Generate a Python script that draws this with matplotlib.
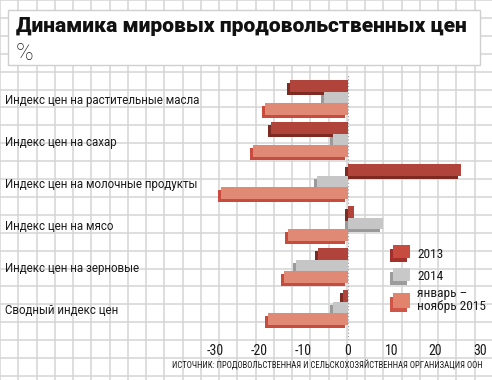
import matplotlib
matplotlib.use('Agg')
import matplotlib.pyplot as plt
from matplotlib.patches import Rectangle
from matplotlib import font_manager
import matplotlib.transforms as mtransforms

# --- data (percent change) ---
categories = [
    'Индекс цен на растительные масла',
    'Индекс цен на сахар',
    'Индекс цен на молочные продукты',
    'Индекс цен на мясо',
    'Индекс цен на зерновые',
    'Сводный индекс цен',
]
values_2013 = [-13.1, -17.4, 25.8, 1.5, -6.6, -1.0]
values_2014 = [-5.4, -3.3, -6.9, 8.0, -11.6, -3.2]
values_2015 = [-18.7, -21.5, -28.7, -13.6, -14.5, -18.1]
series_labels = ['2013', '2014', 'январь –\nноябрь 2015']
x_ticks = [-30, -20, -10, 0, 10, 20, 30]

title = 'Динамика мировых продовольственных цен'
unit = '%'
source = 'ИСТОЧНИК: ПРОДОВОЛЬСТВЕННАЯ И СЕЛЬСКОХОЗЯЙСТВЕННАЯ ОРГАНИЗАЦИЯ ООН'

# face / shadow colours for the fake 3d bars
face_colors = ['#b0443a', '#c6c6c6', '#e08a76']
shadow_colors = ['#7d2a23', '#9a9a9a', '#c94b3e']
legend_faces = ['#c84b3f', '#c8c8c8', '#e2836e']
legend_shadows = ['#a3302a', '#9c9c9c', '#cf5646']

# look for a narrow face for the small texts, fall back to Roboto
fonts = font_manager.fontManager.ttflist
names = {f.name for f in fonts}
body = 'Roboto' if 'Roboto' in names else 'DejaVu Sans'
narrow = None
for cand in ['Roboto Condensed', 'Liberation Sans Narrow', 'Open Sans Condensed']:
    if cand in names:
        narrow = dict(family=cand)
        break
if narrow is None and any(f.name == 'DejaVu Sans' and f.stretch == 'condensed' for f in fonts):
    narrow = dict(family='DejaVu Sans', fontstretch='condensed')
if narrow is None:
    narrow = dict(family=body)
    small_sizes = dict(tick=9.5, legend=8.6, source=5.8)
else:
    small_sizes = dict(tick=10, legend=9.6, source=6.25)

W, H = 492, 380
fig = plt.figure(figsize=(W / 100, H / 100), dpi=100)
fig.patch.set_facecolor('white')

# --- background: squared paper, title box, legend ---
bg = fig.add_axes([0, 0, 1, 1], zorder=0)
bg.set_xlim(0, W)
bg.set_ylim(H, 0)
bg.axis('off')
cell_w, cell_h = 18.25, 17.9
k = 0
while k * cell_w <= W:
    bg.axvline(k * cell_w, color='#d4d4d4', lw=1.1)
    k += 1
k = 0
while k * cell_h <= H:
    bg.axhline(k * cell_h, color='#d4d4d4', lw=1.1)
    k += 1

bg.add_patch(Rectangle((8, 10), 472, 55, facecolor='white', edgecolor='#cfcfcf', lw=1.0, zorder=3))
bg.text(16, 27, title, fontsize=15.1, fontweight='heavy', family=body, color='#111111',
        va='center', ha='left', zorder=4)
bg.text(16, 53, unit, fontsize=17, fontweight='light', family=body, color='#1a1a1a',
        va='center', ha='left', zorder=4)

legend_y = [245, 268, 293]
for i, lab in enumerate(series_labels):
    y0 = legend_y[i]
    hgt = 13 if i < 2 else 15
    bg.add_patch(Rectangle((390, y0 + 4), 17, hgt, facecolor=legend_shadows[i], lw=0, zorder=3))
    bg.add_patch(Rectangle((393, y0), 17, hgt, facecolor=legend_faces[i], lw=0, zorder=4))
    ty = y0 + 9 if i < 2 else y0 + 7
    bg.text(417, ty, lab, fontsize=small_sizes['legend'], color='#1a1a1a', va='center',
            ha='left', linespacing=0.95, zorder=4, **narrow)

fig.text(483 / W, 1 - 366 / H, source, fontsize=small_sizes['source'], color='#1a1a1a',
         ha='right', va='center', **narrow)

# --- main bar axes ---
x_scale = 4.405   # px per percent
zero_px = 347.5
group_px = 42.0
first_px = 97.5
ax_left, ax_right, ax_top, ax_bottom = 200, 492, 75, 340
ax = fig.add_axes([ax_left / W, 1 - ax_bottom / H, (ax_right - ax_left) / W,
                   (ax_bottom - ax_top) / H], zorder=1)
ax.patch.set_alpha(0)
ax.set_xlim((ax_left - zero_px) / x_scale, (ax_right - zero_px) / x_scale)
ax.set_ylim((ax_bottom - first_px) / group_px, (ax_top - first_px) / group_px)
for s in ax.spines.values():
    s.set_visible(False)

bar_h = 11.7 / group_px
dx = 3 / x_scale
dy = 3 / group_px
pos = list(range(len(categories)))
ax.axvline(0, color='#9a9a9a', lw=0.8, ls=(0, (1, 2)), zorder=0.5)
for j, vals in enumerate([values_2013, values_2014, values_2015]):
    off = (j - 1) * bar_h
    ys = [p + off for p in pos]
    ax.barh([y + dy for y in ys], vals, left=-dx, height=bar_h, color=shadow_colors[j],
            lw=0, zorder=1 + j)
    ax.barh(ys, vals, height=bar_h, color=face_colors[j], lw=0, zorder=1.5 + j)

ax.set_yticks([])
ax.set_xticks(x_ticks)
ax.set_xticklabels([str(t) for t in x_ticks], fontsize=small_sizes['tick'], color='#1a1a1a',
                   **narrow)
ax.tick_params(axis='x', length=0, pad=3)

# category labels sit at the left edge of the figure
trans = mtransforms.blended_transform_factory(fig.transFigure, ax.transData)
for p, cat in zip(pos, categories):
    ax.text(5 / W, p + 0.07, cat, transform=trans, fontsize=8.3, family=body,
            color='#1a1a1a', va='center', ha='left', clip_on=False)

fig.savefig('out.png', dpi=100)
